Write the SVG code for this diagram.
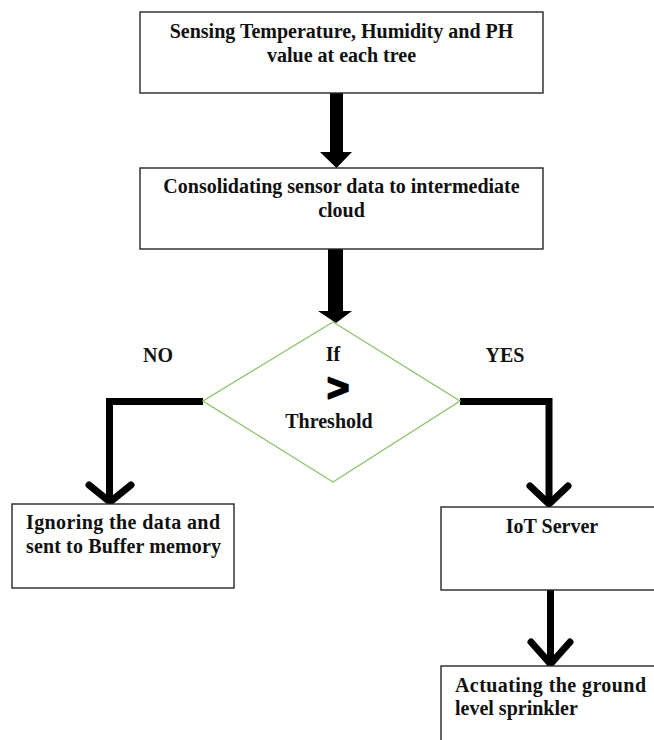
<svg xmlns="http://www.w3.org/2000/svg" width="654" height="740" viewBox="0 0 654 740">
<style>
.box{fill:#fff;stroke:#262626;stroke-width:1.4}
.dia{fill:#fff;stroke:#8cc46e;stroke-width:1.4}
.t{font-family:"Liberation Serif","Times New Roman",serif;font-weight:bold;font-size:20px;fill:#111}
.c{text-anchor:middle}
.ln{fill:none;stroke:#000;stroke-width:7;stroke-linejoin:miter}
.hd{fill:none;stroke:#000;stroke-width:7;stroke-linecap:round;stroke-linejoin:round}
</style>
<rect width="654" height="740" fill="#fff"/>
<g id="connectors">
<polygon points="330,93 343,93 343,152 352,152 336.5,168 320,152 330,152" fill="#000"/>
<polygon points="328,249 343,249 343,311 352,311 336,323 318,311 328,311" fill="#000"/>
<polyline class="ln" points="203,401.5 109.5,401.5 109.5,501"/>
<polyline class="hd" points="89,485 110,502 131,485"/>
<polyline class="ln" points="460,401.5 549,401.5 549,504"/>
<polyline class="hd" points="530,486 549,504 568,486"/>
<line x1="550.5" y1="591" x2="550.5" y2="663" stroke="#000" stroke-width="7" stroke-linecap="round"/>
<polyline class="hd" points="531,642 550.5,664 570,642"/>
</g>
<g id="sensing">
<rect class="box" x="140" y="12" width="403" height="81"/>
<text class="t c" x="341.5" y="38">Sensing Temperature, Humidity and PH</text>
<text class="t c" x="341.5" y="62">value at each tree</text>
</g>
<g id="consolidating">
<rect class="box" x="140" y="168" width="403" height="81"/>
<text class="t c" x="341.5" y="193">Consolidating sensor data to intermediate</text>
<text class="t c" x="341.5" y="217">cloud</text>
</g>
<g id="decision">
<polygon class="dia" points="333,322 460,401 333,482 203,401"/>
<text class="t c" x="333" y="361">If</text>
<text x="338" y="401" text-anchor="middle" style="font-family:'Liberation Sans',Arial,sans-serif;font-weight:bold;font-size:38px;fill:#000;stroke:#000;stroke-width:2;stroke-linejoin:round">&gt;</text>
<text class="t c" x="329" y="428">Threshold</text>
</g>
<g id="labels">
<text class="t c" x="158" y="362">NO</text>
<text class="t c" x="505" y="362">YES</text>
</g>
<g id="ignoring">
<rect class="box" x="12" y="504" width="222" height="84"/>
<text class="t" x="26" y="529" textLength="194" lengthAdjust="spacing">Ignoring the data and</text>
<text class="t" x="26" y="553" textLength="195" lengthAdjust="spacing">sent to Buffer memory</text>
</g>
<g id="iot">
<rect class="box" x="441" y="507" width="230" height="83"/>
<text class="t c" x="552" y="533">IoT Server</text>
</g>
<g id="actuating">
<rect class="box" x="441" y="666" width="230" height="90"/>
<text class="t" x="455" y="692" textLength="191" lengthAdjust="spacing">Actuating the ground</text>
<text class="t" x="455" y="715">level sprinkler</text>
</g>
</svg>
